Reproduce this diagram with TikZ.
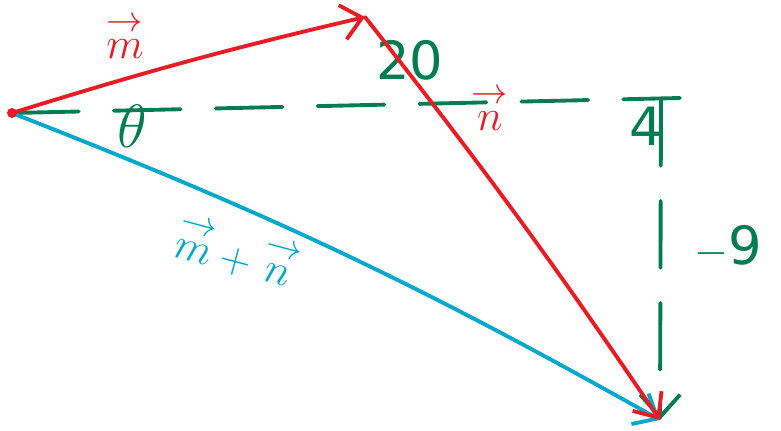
\documentclass[tikz,border=0pt]{standalone}
\usepackage{fontspec}
\setmainfont{DejaVu Sans}
\usepackage{amsmath}
\usetikzlibrary{arrows.meta}
\definecolor{penRed}{RGB}{232,28,36}
\definecolor{penGreen}{RGB}{0,124,82}
\definecolor{penBlue}{RGB}{0,168,204}

\begin{document}
\begin{tikzpicture}[x=0.02cm,y=-0.02cm,
  pen/.style={line width=2.2pt,line cap=round},
  vecarrow/.style={pen,-{Straight Barb[length=4mm,width=7mm]}},
  guide/.style={pen,penGreen,dash pattern=on 38pt off 20pt},
  lbl/.style={font=\fontsize{30}{30}\selectfont,inner sep=1pt}]
\useasboundingbox (0,0) rectangle (781,430);
\coordinate (origin) at (12,113);
\coordinate (mtip) at (365,17);
\coordinate (sumtip) at (660,420);
\coordinate (corner) at (661,99);
\coordinate (xend) at (680,98);
% components
\draw[guide] (origin) -- (xend);
\draw[guide,-{Straight Barb[length=4.5mm,width=8mm]}] (corner) -- (sumtip);
\node[lbl,penGreen,scale=1.4] (angle) at (132,126) {$\theta$};
\node[lbl,penGreen] (dx) at (410,60) {20};
\node[lbl,penGreen] (four) at (646,126) {4};
\node[lbl,penGreen] (dy) at (728,247) {$-$9};
% vectors
\draw[vecarrow,penBlue] (origin) to[bend left=4] (sumtip);
\draw[vecarrow,penRed] (origin) to[bend left=2] (mtip);
\draw[vecarrow,penRed] (mtip) to[bend left=2] (sumtip);
\fill[penRed] (origin) circle (5);
\node[lbl,penRed] (mlbl) at (125,36) {$\overset{\rightarrow}{m}$};
\node[lbl,penRed] (nlbl) at (490,108) {$\overset{\rightarrow}{n}$};
\node[lbl,penBlue,rotate=-15] (sumlbl) at (238,252) {$\overset{\rightarrow}{m}+\overset{\rightarrow}{n}$};
\end{tikzpicture}
\end{document}
